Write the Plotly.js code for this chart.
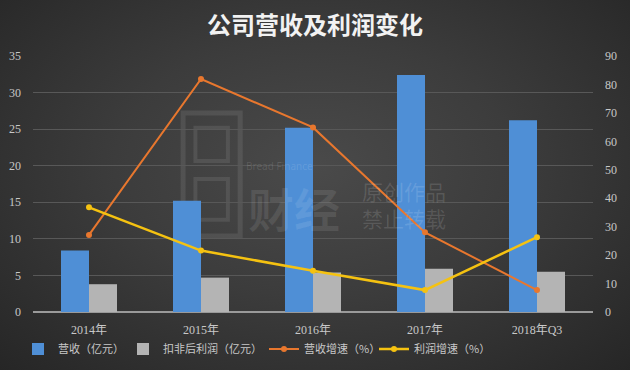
<!DOCTYPE html>
<html>
<head>
<meta charset="utf-8">
<script src="https://cdn.plot.ly/plotly-3.0.1.min.js"></script>
<style>
html,body{margin:0;padding:0;}
body{width:630px;height:370px;overflow:hidden;
background:radial-gradient(ellipse at 50% 45%, #4a4a4a 0%, #3c3c3c 45%, #262626 100%);}
#chart{width:630px;height:370px;}
</style>
</head>
<body>
<div id="chart"></div>
<script>
const categories = ["2014年", "2015年", "2016年", "2017年", "2018年Q3"];
const revenue = [8.4, 15.2, 25.2, 32.4, 26.2];
const netProfit = [3.8, 4.7, 5.4, 5.9, 5.5];
const revenueGrowth = [27.1, 81.9, 64.9, 28.0, 7.7];
const profitGrowth = [36.8, 21.6, 14.5, 7.7, 26.3];
const leftTicks = [0, 5, 10, 15, 20, 25, 30, 35];
const rightTicks = [0, 10, 20, 30, 40, 50, 60, 70, 80, 90];

const tickFont = {family: "Liberation Serif, Noto Sans CJK SC, serif", size: 12, color: "#c8c8c8"};
const legendFont = {family: "Noto Sans CJK SC, sans-serif", size: 11, color: "#c8c8c8"};
const wm = "rgba(255,255,255,0.09)";

const data = [
  {type: "bar", name: "营收（亿元）", x: categories, y: revenue,
   marker: {color: "#4f8fd6"}, yaxis: "y", legend: "legend"},
  {type: "bar", name: "扣非后利润（亿元）", x: categories, y: netProfit,
   marker: {color: "#b4b4b4"}, yaxis: "y", legend: "legend2"},
  {type: "scatter", mode: "lines+markers", name: "营收增速（%）", x: categories, y: revenueGrowth,
   line: {color: "#e8772e", width: 2}, marker: {color: "#e8772e", size: 6}, yaxis: "y2", legend: "legend3"},
  {type: "scatter", mode: "lines+markers", name: "利润增速（%）", x: categories, y: profitGrowth,
   line: {color: "#f5c211", width: 2.5}, marker: {color: "#f5c211", size: 6}, yaxis: "y2", legend: "legend4"}
];

function legendAt(px) {
  return {orientation: "h", xref: "container", x: px / 630, xanchor: "left",
    yref: "container", y: 0.057, yanchor: "middle",
    font: legendFont, bgcolor: "rgba(0,0,0,0)", itemwidth: 30};
}

const layout = {
  width: 630, height: 370,
  paper_bgcolor: "rgba(0,0,0,0)", plot_bgcolor: "rgba(0,0,0,0)",
  margin: {l: 33, r: 37, t: 56, b: 58, autoexpand: false},
  title: {text: "<b>公司营收及利润变化</b>", x: 0.5, xanchor: "center", y: 0.93, yanchor: "middle",
    font: {family: "Noto Sans CJK SC, sans-serif", size: 24, color: "#f2f2f2"}},
  barmode: "group", bargap: 0.5, bargroupgap: 0,
  showlegend: true,
  legend: legendAt(18),
  legend2: legendAt(123),
  legend3: legendAt(264),
  legend4: legendAt(374),
  xaxis: {type: "category", tickfont: tickFont, showgrid: false, showline: false, ticks: "",
    zeroline: false, ticklabelstandoff: 9},
  yaxis: {range: [0, 35], tickvals: leftTicks, tickfont: tickFont, gridcolor: "#585858",
    gridwidth: 1, zeroline: true, zerolinecolor: "#9a9a9a", zerolinewidth: 1.5, showline: false,
    ticks: "", ticklabelstandoff: 11},
  yaxis2: {range: [0, 90], tickvals: rightTicks, tickfont: tickFont, overlaying: "y", side: "right",
    showgrid: false, zeroline: false, showline: false, ticks: "", ticklabelstandoff: 11},
  shapes: [
    {type: "rect", xref: "paper", yref: "paper", x0: 0.268, x1: 0.37, y0: 0.297, y1: 0.777,
     line: {color: wm, width: 5}, fillcolor: "rgba(0,0,0,0)", layer: "below"},
    {type: "rect", xref: "paper", yref: "paper", x0: 0.29, x1: 0.348, y0: 0.59, y1: 0.72,
     line: {color: wm, width: 4}, fillcolor: "rgba(0,0,0,0)", layer: "below"},
    {type: "rect", xref: "paper", yref: "paper", x0: 0.29, x1: 0.348, y0: 0.36, y1: 0.52,
     line: {color: wm, width: 4}, fillcolor: "rgba(0,0,0,0)", layer: "below"}
  ],
  annotations: [
    {text: "原创作品<br>禁止转载", x: 0.662, y: 0.418, xref: "paper", yref: "paper", showarrow: false,
     font: {family: "Noto Sans CJK SC, sans-serif", size: 21, color: "rgba(255,255,255,0.13)"}, align: "left"},
    {text: "<b>财经</b>", x: 0.466, y: 0.41, xref: "paper", yref: "paper", showarrow: false,
     font: {family: "Noto Sans CJK SC, sans-serif", size: 46, color: wm}},
    {text: "Bread Finance", x: 0.44, y: 0.57, xref: "paper", yref: "paper", showarrow: false,
     font: {family: "Noto Sans, sans-serif", size: 10, color: "rgba(255,255,255,0.12)"}}
  ]
};

Plotly.newPlot("chart", data, layout, {displayModeBar: false, staticPlot: true});
</script>
</body>
</html>
